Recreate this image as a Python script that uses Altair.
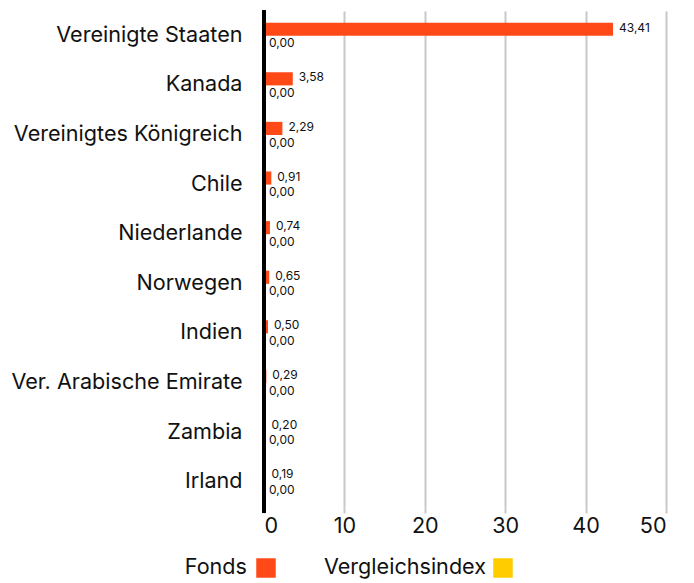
import altair as alt
import pandas as pd

countries = ["Vereinigte Staaten", "Kanada", "Vereinigtes Königreich", "Chile", "Niederlande",
             "Norwegen", "Indien", "Ver. Arabische Emirate", "Zambia", "Irland"]
fonds = [43.41, 3.58, 2.29, 0.91, 0.74, 0.65, 0.50, 0.29, 0.20, 0.19]
index = [0.00] * 10
series = ["Fonds", "Vergleichsindex"]
colors = ["#FF4A17", "#FFCC00"]
x_ticks = [0, 10, 20, 30, 40, 50]

rows = []
for c, f, i in zip(countries, fonds, index):
    rows.append({"Land": c, "Serie": "Fonds", "Wert": f, "Label": f"{f:.2f}".replace(".", ",")})
    rows.append({"Land": c, "Serie": "Vergleichsindex", "Wert": i, "Label": f"{i:.2f}".replace(".", ",")})
df = pd.DataFrame(rows)

FONT = "Inter"
FS = 21.6
W, H = 402, 496

base = alt.Chart(df).encode(
    y=alt.Y("Land:N", sort=countries, title=None,
            scale=alt.Scale(paddingInner=0.47, paddingOuter=0.235),
            axis=alt.Axis(domain=False, ticks=False, labelPadding=22, labelFontSize=FS,
                          labelColor="#111", labelFont=FONT, grid=False, labelLimit=0)),
    yOffset=alt.YOffset("Serie:N", sort=series, scale=alt.Scale(domain=series)),
)

bars = base.mark_bar().encode(
    x=alt.X("Wert:Q", title=None,
            scale=alt.Scale(domain=[0, 50], nice=False),
            axis=alt.Axis(values=x_ticks, domain=False, tickSize=6, tickColor="#c8c8c8",
                          tickWidth=2, gridColor="#c8c8c8", gridWidth=2, labelFontSize=FS,
                          labelColor="#111", labelFont=FONT, labelPadding=2)),
    color=alt.Color("Serie:N", scale=alt.Scale(domain=series, range=colors), legend=None),
)

labels_f = base.mark_text(align="left", baseline="middle", dx=6, dy=-1.5, fontSize=12,
                          font=FONT, color="#111").encode(
    x="Wert:Q", text="Label:N"
).transform_filter(alt.datum.Serie == "Fonds")

labels_i = base.mark_text(align="left", baseline="middle", dx=5, dy=1, fontSize=12,
                          font=FONT, color="#111").encode(
    x="Wert:Q", text="Label:N"
).transform_filter(alt.datum.Serie == "Vergleichsindex")

zero = alt.Chart(pd.DataFrame({"v": [0]})).mark_rule(color="black", strokeWidth=4).encode(
    x="v:Q", y=alt.value(-1), y2=alt.value(H + 6)
)

leg_df = pd.DataFrame({"Serie": series, "tx": [-17, 222], "sx": [2, 239]})
leg_text = alt.Chart(leg_df).mark_text(align="right", baseline="middle", fontSize=FS,
                                       font=FONT, color="#111").encode(
    x=alt.X("tx:Q", scale=None), y=alt.value(557), text="Serie:N"
)
leg_sq = alt.Chart(leg_df).mark_square(size=380, opacity=1).encode(
    x=alt.X("sx:Q", scale=None), y=alt.value(557),
    color=alt.Color("Serie:N", scale=alt.Scale(domain=series, range=colors), legend=None),
)

chart = alt.layer(bars, labels_f, labels_i, zero, leg_text, leg_sq).properties(
    width=W, height=H, padding={"left": 2, "top": 0, "right": 5, "bottom": 0}
).configure_view(stroke=None)

chart.save("out.html", embed_options={"renderer": "svg", "actions": False})
